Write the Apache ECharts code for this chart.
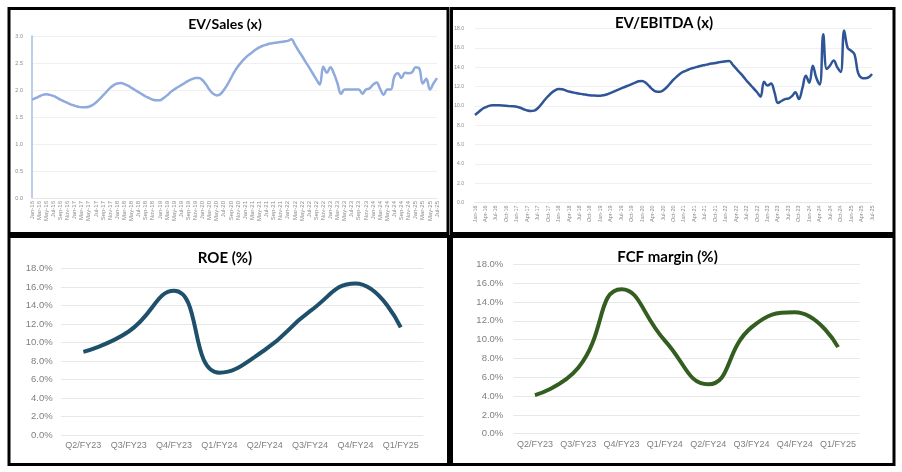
<!DOCTYPE html>
<html><head><meta charset="utf-8">
<script src="https://cdn.jsdelivr.net/npm/echarts@6/dist/echarts.min.js"></script>
<style>html,body{margin:0;padding:0;background:#fff;}#c{width:902px;height:472px;}</style>
</head><body><div id="c"></div><script>
// ---- data ----
const monthNames = ['Jan','Feb','Mar','Apr','May','Jun','Jul','Aug','Sep','Oct','Nov','Dec'];
const monthCats = [];
for (let y = 16; y <= 25; y++) {
  for (let m = 0; m < 12; m++) {
    if (y === 25 && m > 6) break;
    monthCats.push(monthNames[m] + '-' + y);
  }
}
const evSales = [
1.82,1.85,1.88,1.91,1.92,1.91,1.89,1.86,1.82,1.79,
1.76,1.73,1.71,1.69,1.68,1.68,1.69,1.72,1.77,1.83,
1.90,1.97,2.04,2.09,2.12,2.13,2.11,2.08,2.04,2.00,
1.96,1.92,1.88,1.85,1.82,1.81,1.81,1.85,1.90,1.96,
2.01,2.05,2.09,2.13,2.17,2.20,2.22,2.22,2.18,2.10,
2.00,1.93,1.90,1.92,2.00,2.10,2.22,2.34,2.44,2.52,
2.59,2.65,2.70,2.75,2.79,2.82,2.84,2.86,2.87,2.88,
2.89,2.90,2.91,2.94,2.84,2.73,2.63,2.52,2.42,2.31,
2.20,2.10,2.43,2.32,2.42,2.30,2.12,1.93,2.01,2.01,
2.01,2.01,2.01,1.93,2.01,2.03,2.10,2.14,2.02,1.91,
2.01,2.01,2.25,2.31,2.22,2.32,2.31,2.33,2.42,2.40,
2.12,2.21,2.01,2.12,2.22
];
const evEbitda = [
9.05,9.35,9.65,9.85,10.0,10.05,10.05,10.05,10.03,10.0,
9.97,9.95,9.9,9.8,9.65,9.52,9.46,9.5,9.75,10.15,
10.6,11.0,11.35,11.6,11.74,11.72,11.6,11.48,11.4,11.32,
11.26,11.2,11.15,11.1,11.07,11.05,11.05,11.1,11.2,11.35,
11.5,11.65,11.8,11.95,12.1,12.25,12.4,12.55,12.58,12.4,
12.05,11.7,11.48,11.45,11.6,11.9,12.3,12.7,13.05,13.35,
13.55,13.7,13.85,13.95,14.05,14.15,14.22,14.3,14.37,14.43,
14.5,14.55,14.62,14.65,14.25,13.85,13.45,13.05,12.6,12.2,
11.8,11.4,10.95,12.5,12.1,12.3,11.4,10.3,10.5,10.7,
10.75,11.0,11.4,10.7,11.8,13.1,12.4,14.15,12.9,12.2,
17.4,13.8,14.2,14.7,14.0,13.5,17.8,16.0,15.7,15.3,
13.4,12.9,12.85,12.95,13.3
];
const quarters = ['Q2/FY23','Q3/FY23','Q4/FY23','Q1/FY24','Q2/FY24','Q3/FY24','Q4/FY24','Q1/FY25'];
const roe = [9.0, 11.2, 15.6, 6.75, 9.2, 13.4, 16.4, 11.65];
const fcf = [4.1, 7.0, 15.35, 9.9, 5.25, 11.3, 12.9, 9.2];

// ---- chart ----
const chart = echarts.init(document.getElementById('c'), null, {renderer: 'canvas'});
const smallFont = 'Liberation Sans, Arial, sans-serif';
const titleFont = 'Lato, Open Sans, sans-serif';
function monthAxis(gi, interval, fs) {
  return {gridIndex: gi, type: 'category', data: monthCats, boundaryGap: false,
    axisLine: {show: true, lineStyle: {color: '#e6e6e6'}}, axisTick: {show: false},
    axisLabel: {interval: interval, rotate: 90, fontSize: fs, color: '#8a8a8a', margin: 3, fontFamily: smallFont}};
}
function quarterAxis(gi) {
  return {gridIndex: gi, type: 'category', data: quarters, boundaryGap: true,
    axisLine: {show: false}, axisTick: {show: false},
    axisLabel: {interval: 0, fontSize: 9, color: '#7f7f7f', margin: 6, fontFamily: smallFont}};
}
const option = {
  animation: false,
  grid: [
    {left: 32, top: 36, width: 405, height: 162},
    {left: 475, top: 28.5, width: 397, height: 174},
    {left: 60.7, top: 268.7, width: 362.7, height: 166.3},
    {left: 513.3, top: 264.3, width: 346.4, height: 169.4}
  ],
  xAxis: [monthAxis(0, 1, 6), monthAxis(1, 2, 5.5), quarterAxis(2), quarterAxis(3)],
  yAxis: [
    {gridIndex: 0, type: 'value', min: 0, max: 3, interval: 0.5,
      axisLine: {show: true, lineStyle: {color: '#a9bde3', width: 1.5}},
      splitLine: {lineStyle: {color: '#f0f0f0'}},
      axisLabel: {fontSize: 5.5, color: '#8a8a8a', margin: 9, fontFamily: smallFont, formatter: v => v.toFixed(1)}},
    {gridIndex: 1, type: 'value', min: 0, max: 18, interval: 2,
      axisLine: {show: false},
      splitLine: {lineStyle: {color: '#f0f0f0'}},
      axisLabel: {fontSize: 5, color: '#8a8a8a', margin: 11, fontFamily: smallFont, formatter: v => v.toFixed(1)}},
    {gridIndex: 2, type: 'value', min: 0, max: 18, interval: 2,
      axisLine: {show: false},
      splitLine: {lineStyle: {color: '#e8e8e8'}},
      axisLabel: {fontSize: 9.5, color: '#7f7f7f', margin: 8, fontFamily: smallFont, formatter: v => v.toFixed(1) + '%'}},
    {gridIndex: 3, type: 'value', min: 0, max: 18, interval: 2,
      axisLine: {show: false},
      splitLine: {lineStyle: {color: '#e8e8e8'}},
      axisLabel: {fontSize: 9.5, color: '#7f7f7f', margin: 10, fontFamily: smallFont, formatter: v => v.toFixed(1) + '%'}}
  ],
  series: [
    {type: 'line', xAxisIndex: 0, yAxisIndex: 0, data: evSales, showSymbol: false, smooth: 0.4,
      lineStyle: {color: '#8faadc', width: 2.5}},
    {type: 'line', xAxisIndex: 1, yAxisIndex: 1, data: evEbitda, showSymbol: false, smooth: 0.4,
      lineStyle: {color: '#2f5597', width: 2.5}},
    {type: 'line', xAxisIndex: 2, yAxisIndex: 2, data: roe, showSymbol: false, smooth: 0.5,
      lineStyle: {color: '#1e4f6b', width: 4}},
    {type: 'line', xAxisIndex: 3, yAxisIndex: 3, data: fcf, showSymbol: false, smooth: 0.5,
      lineStyle: {color: '#335e1f', width: 4}}
  ],
  graphic: [
    {type: 'rect', shape: {x: 9, y: 8.5, width: 439, height: 225}, style: {fill: 'none', stroke: '#000', lineWidth: 3}, z: 100},
    {type: 'rect', shape: {x: 451.5, y: 8.5, width: 442.5, height: 225}, style: {fill: 'none', stroke: '#000', lineWidth: 3}, z: 100},
    {type: 'rect', shape: {x: 9, y: 236.5, width: 439.5, height: 228}, style: {fill: 'none', stroke: '#000', lineWidth: 3}, z: 100},
    {type: 'rect', shape: {x: 451.5, y: 236.5, width: 442.5, height: 228}, style: {fill: 'none', stroke: '#000', lineWidth: 3}, z: 100},
    {type: 'text', x: 225, y: 24.5, style: {text: 'EV/Sales (x)', fill: '#000', font: 'bold 14px ' + titleFont, textAlign: 'center', textVerticalAlign: 'middle'}, z: 100},
    {type: 'text', x: 664, y: 23.5, style: {text: 'EV/EBITDA (x)', fill: '#000', font: 'bold 15px ' + titleFont, textAlign: 'center', textVerticalAlign: 'middle'}, z: 100},
    {type: 'text', x: 225, y: 258, style: {text: 'ROE (%)', fill: '#000', font: 'bold 15px ' + titleFont, textAlign: 'center', textVerticalAlign: 'middle'}, z: 100},
    {type: 'text', x: 667.5, y: 257.5, style: {text: 'FCF margin (%)', fill: '#000', font: 'bold 15px ' + titleFont, textAlign: 'center', textVerticalAlign: 'middle'}, z: 100}
  ]
};
chart.setOption(option);
</script></body></html>
